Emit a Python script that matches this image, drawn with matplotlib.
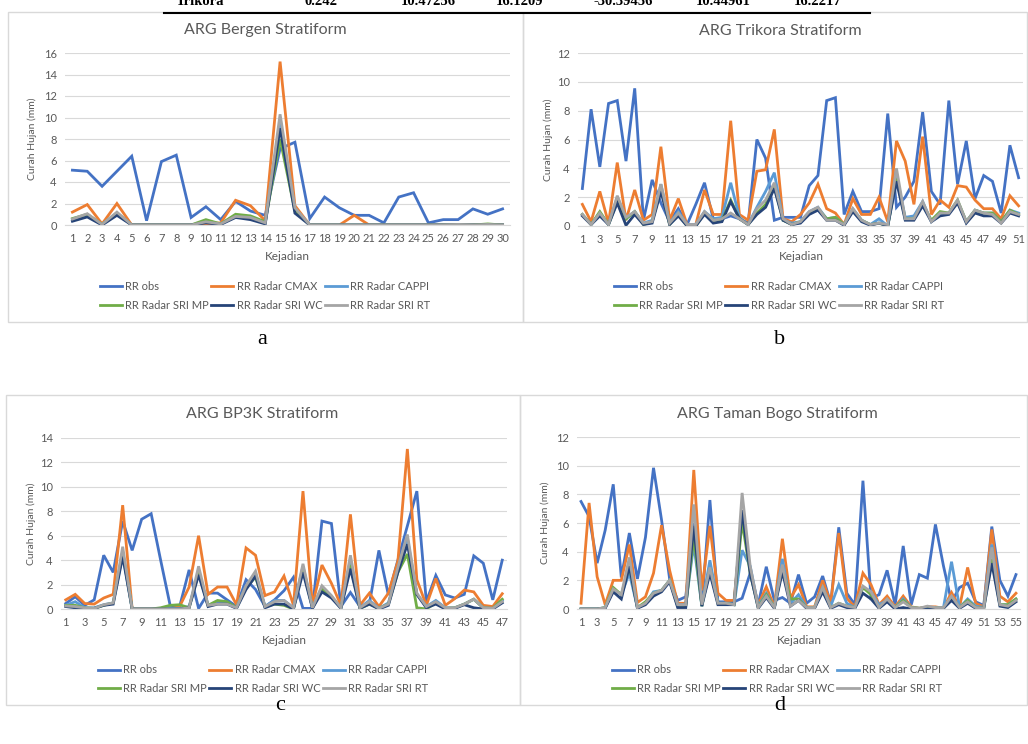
import matplotlib
matplotlib.use("Agg")
import matplotlib.pyplot as plt
from matplotlib.patches import Rectangle
from matplotlib.lines import Line2D

plt.rcParams['font.family'] = ['Lato', 'DejaVu Sans']

W, H = 1028, 744

# LABEL SERI
labels = ['RR obs', 'RR Radar CMAX', 'RR Radar CAPPI', 'RR Radar SRI MP', 'RR Radar SRI WC', 'RR Radar SRI RT']
colors = ['#4472C4', '#ED7D31', '#5B9BD5', '#70AD47', '#264478', '#A5A5A5']

# DATA ARG BERGEN (30 kejadian)
a_obs = [5.1, 5.0, 3.6, 5.0, 6.4, 0.4, 5.9, 6.5, 0.7, 1.7, 0.5, 2.2, 1.3, 0.9, 7.1,
         7.7, 0.6, 2.6, 1.6, 0.9, 0.9, 0.2, 2.6, 3.0, 0.2, 0.5, 0.5, 1.5, 1.0, 1.5]
a_cmax = [1.2, 1.9, 0.1, 2.0, 0, 0, 0, 0, 0, 0.1, 0.2, 2.3, 1.8, 0.4, 15.2,
          1.8, 0, 0, 0, 0.9, 0, 0, 0, 0, 0, 0, 0, 0, 0, 0]
a_cappi = [0.5, 0.9, 0.05, 1.1, 0, 0, 0, 0, 0, 0.3, 0.1, 0.9, 0.7, 0.2, 9.5,
           1.4, 0, 0, 0, 0, 0, 0, 0, 0, 0, 0, 0, 0, 0, 0]
a_mp = [0.6, 1.0, 0.05, 1.1, 0, 0, 0, 0, 0, 0.5, 0.1, 1.0, 0.85, 0.3, 8.0,
        1.3, 0, 0, 0, 0, 0, 0, 0, 0, 0, 0, 0, 0, 0.1, 0]
a_wc = [0.35, 0.75, 0, 0.9, 0, 0, 0, 0, 0, 0.2, 0.05, 0.7, 0.5, 0.1, 9.0,
        1.1, 0, 0, 0, 0, 0, 0, 0, 0, 0, 0, 0, 0, 0, 0]
a_rt = [0.55, 1.05, 0.05, 1.2, 0, 0, 0, 0, 0, 0.3, 0.1, 0.8, 0.7, 0.2, 10.3,
        1.6, 0, 0, 0, 0, 0, 0, 0, 0, 0, 0, 0.05, 0, 0.05, 0]

# DATA ARG TRIKORA (51 kejadian)
b_obs = [2.6, 8.1, 4.1, 8.5, 8.7, 4.5, 9.55, 0.4, 3.2, 1.6, 0.3, 1.2, 0.1, 1.5, 3.0,
         0.5, 0.5, 0.7, 0.5, 0.2, 6.0, 4.7, 0.4, 0.6, 0.6, 0.6, 2.8, 3.5, 8.7, 8.9,
         0.8, 2.4, 1.0, 1.0, 1.2, 7.8, 1.3, 2.0, 3.1, 7.9, 2.4, 1.5, 8.7, 2.9, 5.9,
         1.9, 3.5, 3.1, 0.9, 5.6, 3.35]
b_cmax = [1.5, 0.3, 2.4, 0.2, 4.4, 0.4, 2.5, 0.4, 0.8, 5.5, 0.4, 1.9, 0.1, 0.1, 2.5,
          0.8, 0.8, 7.3, 0.8, 0.4, 3.8, 3.9, 6.7, 0.5, 0.3, 0.8, 1.6, 2.9, 1.2, 0.9,
          0.1, 1.9, 0.8, 0.8, 2.0, 0.3, 5.9, 4.5, 1.5, 6.2, 0.8, 1.8, 1.3, 2.8, 2.7,
          1.8, 1.2, 1.2, 0.5, 2.1, 1.4]
b_cappi = [0.8, 0.1, 0.9, 0.1, 2.0, 0.5, 1.0, 0.2, 0.4, 2.9, 0.2, 1.0, 0.1, 0.1, 1.0,
           0.5, 0.6, 3.0, 0.6, 0.1, 1.3, 2.4, 3.7, 0.4, 0.2, 0.3, 1.0, 1.3, 0.5, 0.6,
           0.1, 1.2, 0.4, 0.1, 0.5, 0.0, 3.5, 0.6, 0.7, 1.7, 0.3, 0.8, 0.9, 1.7, 0.3,
           1.1, 0.9, 0.9, 0.3, 1.1, 0.9]
b_mp = [0.8, 0.1, 1.0, 0.1, 1.7, 0.5, 1.0, 0.1, 0.3, 2.6, 0.1, 0.8, 0.0, 0.0, 0.9,
        0.4, 0.4, 1.8, 0.5, 0.1, 0.9, 1.5, 2.8, 0.4, 0.1, 0.3, 0.9, 1.2, 0.5, 0.6,
        0.1, 1.1, 0.4, 0.1, 0.2, 0.0, 3.3, 0.5, 0.5, 1.5, 0.4, 1.0, 0.9, 1.8, 0.3,
        1.1, 0.9, 0.9, 0.3, 1.1, 0.8]
b_wc = [0.7, 0.1, 0.7, 0.1, 1.6, 0.05, 0.8, 0.1, 0.2, 2.4, 0.1, 0.7, 0.0, 0.0, 0.8,
        0.2, 0.3, 1.7, 0.5, 0.1, 0.8, 1.3, 2.6, 0.4, 0.1, 0.2, 0.8, 1.1, 0.4, 0.4,
        0.05, 1.0, 0.3, 0.05, 0.2, 0.0, 3.1, 0.4, 0.4, 1.4, 0.3, 0.7, 0.8, 1.6, 0.2,
        0.9, 0.7, 0.7, 0.2, 0.9, 0.7]
b_rt = [0.8, 0.1, 0.9, 0.1, 2.1, 0.6, 1.0, 0.2, 0.3, 2.9, 0.2, 0.9, 0.1, 0.1, 1.0,
        0.4, 0.5, 0.9, 0.5, 0.1, 1.2, 1.8, 3.0, 0.5, 0.1, 0.3, 1.0, 1.3, 0.4, 0.4,
        0.1, 1.2, 0.4, 0.1, 0.2, 0.1, 4.0, 0.5, 0.5, 1.7, 0.3, 0.9, 0.9, 1.8, 0.3,
        1.1, 0.9, 0.8, 0.2, 1.0, 0.8]

# DATA ARG BP3K (47 kejadian)
c_obs = [0.45, 1.0, 0.3, 0.75, 4.4, 3.0, 7.2, 4.8, 7.35, 7.8, 4.0, 0.3, 0.2, 3.2, 0.05,
         1.3, 1.3, 0.75, 0.2, 2.4, 1.6, 0.2, 0.75, 1.5, 2.6, 0.05, 0.05, 7.2, 7.0, 0.2,
         1.35, 0.2, 0.45, 4.8, 1.15, 4.0, 6.8, 9.65, 0.6, 2.75, 1.15, 0.9, 1.2, 4.35, 3.75,
         0.75, 4.0]
c_cmax = [0.75, 1.2, 0.45, 0.4, 0.9, 1.2, 8.5, 0, 0, 0, 0, 0, 0.2, 1.8, 6.0,
          1.2, 1.8, 1.8, 0.35, 5.0, 4.4, 1.1, 1.4, 2.7, 0.3, 9.65, 0.3, 3.6, 2.1, 0.3,
          7.75, 0.3, 1.3, 0.2, 1.3, 3.9, 13.1, 2.4, 0.3, 2.5, 0.3, 0.85, 1.55, 1.4, 0.3,
          0.2, 1.25]
c_cappi = [0.3, 0.6, 0.1, 0.1, 0.35, 0.5, 4.5, 0, 0, 0, 0, 0.05, 0.05, 0.2, 3.0,
           0.3, 0.5, 0.5, 0.1, 1.9, 2.9, 0.2, 0.7, 0.7, 0.1, 3.5, 0.1, 1.8, 1.0, 0.1,
           4.0, 0.1, 0.7, 0.05, 0.5, 3.2, 5.8, 1.2, 0.2, 0.7, 0.1, 0.1, 0.4, 0.8, 0.1,
           0.05, 0.7]
c_mp = [0.3, 0.3, 0.1, 0.05, 0.3, 0.5, 4.7, 0, 0, 0, 0.1, 0.3, 0.35, 0.1, 3.0,
        0.3, 0.7, 0.6, 0.1, 1.8, 2.6, 0.2, 0.4, 0.3, 0.0, 3.3, 0.1, 1.6, 1.0, 0.1,
        3.6, 0.05, 0.4, 0.05, 0.4, 3.0, 4.5, 0.1, 0.0, 0.5, 0.05, 0.1, 0.4, 0.8, 0.1,
        0.05, 0.8]
c_wc = [0.2, 0.1, 0.05, 0.05, 0.3, 0.4, 4.3, 0, 0, 0, 0, 0, 0, 0.1, 2.8,
        0.2, 0.4, 0.4, 0.05, 1.6, 2.7, 0.1, 0.4, 0.4, 0.0, 3.0, 0.05, 1.4, 0.9, 0.05,
        3.3, 0.05, 0.4, 0.0, 0.3, 3.0, 5.3, 1.2, 0.1, 0.4, 0.0, 0.05, 0.35, 0.1, 0.0,
        0.0, 0.5]
c_rt = [0.25, 0.2, 0.1, 0.05, 0.35, 0.5, 5.1, 0, 0, 0, 0, 0, 0, 0.1, 3.5,
        0.3, 0.4, 0.4, 0.1, 1.9, 3.1, 0.2, 0.6, 0.7, 0.1, 3.7, 0.1, 1.9, 1.1, 0.1,
        4.4, 0.1, 0.6, 0.05, 0.4, 3.4, 6.1, 1.3, 0.2, 0.6, 0.1, 0.1, 0.4, 0.8, 0.1,
        0.05, 0.6]

# DATA ARG TAMAN BOGO (55 kejadian)
d_obs = [7.5, 6.45, 3.2, 5.5, 8.7, 2.2, 5.3, 2.1, 5.0, 9.85, 6.2, 2.1, 0.6, 0.85, 6.0,
         0.3, 7.6, 0.5, 0.5, 0.5, 0.75, 2.5, 0.3, 2.95, 0.6, 0.8, 0.4, 2.4, 0.4, 0.85,
         2.3, 0.4, 5.7, 1.1, 0.3, 8.95, 0.75, 1.0, 2.7, 0.3, 4.4, 0.3, 2.4, 2.15, 5.9,
         3.0, 0.5, 1.5, 1.8, 0.5, 0.25, 5.75, 2.0, 0.9, 2.4]
d_cmax = [0.4, 7.4, 2.25, 0.3, 2.0, 2.0, 4.5, 0.45, 0.85, 2.5, 5.85, 2.7, 0.4, 0.4, 9.7,
          1.3, 5.8, 1.1, 0.6, 0.6, 6.5, 2.7, 0.3, 1.55, 0.15, 4.9, 0.75, 1.7, 0.15, 0.15,
          2.0, 0.4, 5.3, 0.75, 0.15, 2.5, 1.7, 0.3, 0.9, 0.15, 0.9, 0.15, 0.05, 0.15, 0.15,
          0.05, 1.15, 0.15, 2.9, 0.4, 0.15, 5.55, 0.9, 0.5, 1.1]
d_cappi = [0, 0, 0, 0.1, 1.4, 1.0, 2.5, 0.1, 0.4, 1.2, 1.3, 2.0, 0.3, 0.3, 4.5,
           0.2, 3.4, 0.4, 0.4, 0.3, 4.1, 3.0, 0.2, 1.1, 0.1, 3.5, 0.4, 1.0, 0.1, 0.1,
           1.5, 0.2, 1.7, 0.4, 0.1, 1.5, 1.2, 0.3, 0.6, 0.1, 0.7, 0.1, 0.05, 0.1, 0.1,
           0.1, 3.3, 0.1, 0.7, 0.2, 0.1, 4.5, 0.3, 0.3, 0.7]
d_mp = [0, 0, 0, 0.1, 1.5, 1.0, 3.0, 0.1, 0.5, 1.1, 1.3, 2.0, 0.2, 0.2, 5.0,
        0.2, 2.8, 0.4, 0.4, 0.3, 6.1, 2.5, 0.1, 1.0, 0.1, 2.8, 0.7, 0.7, 0.1, 0.1,
        1.4, 0.1, 0.4, 0.2, 0.1, 1.5, 1.0, 0.1, 0.6, 0.1, 0.6, 0.1, 0.05, 0.1, 0.1,
        0.05, 0.8, 0.1, 0.6, 0.1, 0.05, 3.5, 0.3, 0.3, 0.7]
d_wc = [0, 0, 0, 0.05, 1.2, 0.7, 3.0, 0.05, 0.3, 0.9, 1.2, 1.9, 0.1, 0.1, 5.8,
        0.2, 2.5, 0.3, 0.3, 0.3, 6.9, 2.5, 0.05, 0.8, 0.05, 2.6, 0.2, 0.6, 0.05, 0.05,
        1.2, 0.05, 0.3, 0.1, 0.05, 1.1, 0.7, 0.05, 0.5, 0.0, 0.1, 0.0, 0.0, 0.0, 0.05,
        0.05, 0.6, 0.05, 0.4, 0.05, 0.05, 3.2, 0.2, 0.1, 0.5]
d_rt = [0, 0, 0, 0.1, 1.4, 1.0, 3.6, 0.1, 0.4, 1.1, 1.3, 2.0, 0.3, 0.3, 7.3,
        0.3, 2.9, 0.4, 0.4, 0.3, 8.1, 3.0, 0.1, 0.9, 0.1, 3.1, 0.2, 0.6, 0.1, 0.1,
        1.5, 0.1, 0.4, 0.2, 0.1, 1.6, 1.2, 0.1, 0.7, 0.1, 0.5, 0.1, 0.05, 0.2, 0.1,
        0.1, 0.9, 0.1, 0.5, 0.1, 0.05, 4.3, 0.3, 0.2, 0.6]

# BARIS TABEL DI ATAS GAMBAR (TERPOTONG)
top_vals = ['Trikora', '0.242', '10.47256', '16.1209', '-30.39456', '10.44961', '16.2217']
top_x = [200, 321, 428, 520, 623, 723, 818]

TXT = '#595959'
GRID = '#D9D9D9'

def fx(x):
    return x / W

def fy(y):
    return 1 - y / H

fig = plt.figure(figsize=(W / 100, H / 100), dpi=100)

def panel(box, axpx, title, series, ymax, step, title_xy, ylab_x, xlab_xy, leg_xy, letter, letter_xy):
    # KOTAK CHART
    x0, y0, x1, y1 = box
    fig.patches.append(Rectangle((fx(x0), fy(y1)), fx(x1 - x0), (y1 - y0) / H,
                                 transform=fig.transFigure, fill=False, edgecolor=GRID, lw=1))
    l, t, r, b = axpx
    ax = fig.add_axes([fx(l), fy(b), fx(r - l), (b - t) / H])
    n = len(series[0])
    x = list(range(1, n + 1))
    for s, c, lab in zip(series, colors, labels):
        ax.plot(x, s, color=c, lw=2.0, label=lab, solid_joinstyle='miter')
    ax.set_xlim(0.5, n + 0.5)
    ax.set_ylim(0, ymax)
    ax.set_yticks(range(0, ymax + 1, 2))
    ax.set_xticks(range(1, n + 1, step))
    ax.grid(axis='y', color=GRID, lw=0.8)
    ax.set_axisbelow(True)
    for sp in ['top', 'right', 'left']:
        ax.spines[sp].set_visible(False)
    ax.spines['bottom'].set_color(GRID)
    ax.tick_params(length=0, labelsize=8, colors=TXT)
    ax.tick_params(axis='x', pad=6)
    ax.tick_params(axis='y', pad=6)
    fig.text(fx(title_xy[0]), fy(title_xy[1]), title, ha='center', va='center', fontsize=11.5, color=TXT)
    fig.text(fx(ylab_x), fy((t + b) / 2), 'Curah Hujan (mm)', rotation=90, ha='center', va='center',
             fontsize=7.5, color=TXT)
    fig.text(fx(xlab_xy[0]), fy(xlab_xy[1]), 'Kejadian', ha='center', va='center', fontsize=8.5, color=TXT)
    h, lb = ax.get_legend_handles_labels()
    order = [0, 3, 1, 4, 2, 5]
    ax.legend([h[i] for i in order], [lb[i] for i in order], ncol=3, loc='center',
              bbox_to_anchor=(fx(leg_xy[0]), fy(leg_xy[1])), bbox_transform=fig.transFigure,
              frameon=False, fontsize=8, handlelength=2.0, handletextpad=0.3,
              columnspacing=0.2, labelspacing=0.65, labelcolor=TXT)
    fig.text(fx(letter_xy[0]), fy(letter_xy[1]), letter, ha='center', va='center',
             fontsize=16, family='Liberation Serif', color='black')
    return ax

panel((8, 12, 523, 322), (65, 53, 510, 225), 'ARG Bergen Stratiform',
      [a_obs, a_cmax, a_cappi, a_mp, a_wc, a_rt], 16, 1,
      (265, 30), 32, (287, 256), (265, 296), 'a', (262, 340))
panel((523, 12, 1027, 322), (578, 53, 1023, 226), 'ARG Trikora Stratiform',
      [b_obs, b_cmax, b_cappi, b_mp, b_wc, b_rt], 12, 2,
      (780, 31), 548, (801, 257), (779, 296), 'b', (780, 340))
panel((6, 395, 520, 705), (61, 438, 507, 609), 'ARG BP3K Stratiform',
      [c_obs, c_cmax, c_cappi, c_mp, c_wc, c_rt], 14, 2,
      (262, 414), 31, (284, 640), (263, 679), 'c', (280, 705))
panel((520, 395, 1027, 705), (577, 437, 1020, 609), 'ARG Taman Bogo Stratiform',
      [d_obs, d_cmax, d_cappi, d_mp, d_wc, d_rt], 12, 2,
      (777, 414), 545, (799, 640), (777, 679), 'd', (780, 705))

# GARIS TABEL DI ATAS
fig.lines.append(Line2D([fx(164), fx(870)], [fy(13), fy(13)], transform=fig.transFigure, color='black', lw=1.5))
for xx, tv in zip(top_x, top_vals):
    fig.text(fx(xx), fy(5), tv, ha='center', va='baseline', fontsize=10.5, weight='bold',
             family='Liberation Serif')

fig.savefig('out.png', dpi=100)
